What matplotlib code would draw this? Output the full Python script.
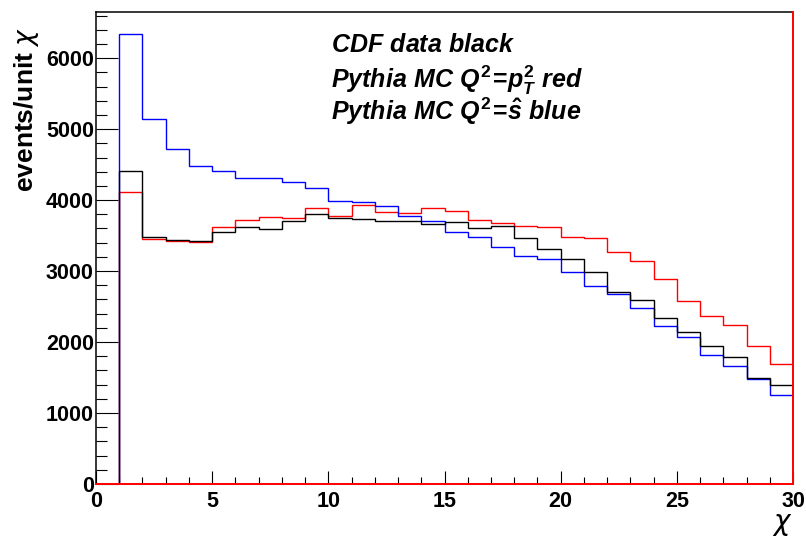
import numpy as np
import matplotlib
matplotlib.use('Agg')
import matplotlib.pyplot as plt
from matplotlib.ticker import MultipleLocator

plt.rcParams['font.family'] = ['Liberation Sans', 'DejaVu Sans']
plt.rcParams['mathtext.fontset'] = 'custom'
plt.rcParams['mathtext.rm'] = 'Liberation Sans:bold'
plt.rcParams['mathtext.it'] = 'Liberation Sans:bold:italic'
plt.rcParams['mathtext.bf'] = 'Liberation Sans:bold'

# bin edges (chi), 29 bins of width 1 from 1 to 30
edges = np.arange(1, 31)

cdf_data = [4413, 3474, 3437, 3423, 3545, 3615, 3596, 3704, 3798, 3745,
            3728, 3704, 3704, 3657, 3685, 3601, 3634, 3461, 3314, 3173,
            2982, 2700, 2596, 2343, 2146, 1944, 1784, 1493, 1394]
pythia_pt2 = [4113, 3451, 3427, 3404, 3615, 3718, 3756, 3742, 3892, 3777,
              3934, 3831, 3812, 3892, 3845, 3718, 3680, 3638, 3624, 3482,
              3461, 3268, 3141, 2892, 2582, 2366, 2239, 1944, 1690]
pythia_shat = [6338, 5141, 4718, 4483, 4413, 4305, 4305, 4258, 4164, 3991,
               3967, 3915, 3779, 3704, 3554, 3474, 3333, 3211, 3164, 2988,
               2789, 2680, 2474, 2225, 2066, 1817, 1662, 1479, 1249]

legend_lines = [r'$CDF\ data\ black$',
                r'$Pythia\ MC\ Q^{2}\!=\!p_{T}^{2}\ red$',
                r'$Pythia\ MC\ Q^{2}\!=\!\hat{s}\ blue$']
legend_y = [6089, 5573, 5127]

fig = plt.figure(figsize=(8.06, 5.40), dpi=100)
ax = fig.add_axes([96 / 806, 56 / 540, 697 / 806, 472 / 540])

ax.stairs(pythia_pt2, edges, baseline=0, color='#ff0000', lw=1.0, zorder=2)
ax.stairs(pythia_shat, edges, baseline=0, color='#0000ff', lw=1.0, zorder=3)
ax.stairs(cdf_data, edges, baseline=0, color='black', lw=1.0, zorder=4)

ax.set_xlim(0, 30)
ax.set_ylim(0, 6650)

ax.xaxis.set_major_locator(MultipleLocator(5))
ax.xaxis.set_minor_locator(MultipleLocator(1))
ax.yaxis.set_major_locator(MultipleLocator(1000))
ax.yaxis.set_minor_locator(MultipleLocator(200))

ax.tick_params(axis='x', which='major', direction='in', length=9.4, width=0.8, pad=5)
ax.tick_params(axis='x', which='minor', direction='in', length=5, width=0.8)
ax.tick_params(axis='y', which='major', direction='in', length=15.8, width=0.8, pad=1.5)
ax.tick_params(axis='y', which='minor', direction='in', length=7.9, width=0.8)
for lab in ax.get_xticklabels() + ax.get_yticklabels():
    lab.set_fontsize(15.5)
    lab.set_fontweight('bold')

for side in ['left', 'top']:
    ax.spines[side].set_color('black')
    ax.spines[side].set_linewidth(1.1)
for side in ['right', 'bottom']:
    ax.spines[side].set_color('#ff0000')
    ax.spines[side].set_linewidth(1.4)
    ax.spines[side].set_zorder(5)

for txt, yy in zip(legend_lines, legend_y):
    ax.text(10.1, yy, txt, fontsize=18, va='baseline', ha='left')

fig.text(27 / 806, 1 - 27 / 540, r'events/unit $\chi$', rotation=90,
         ha='center', va='top', fontsize=19, fontweight='bold',
         math_fontfamily='dejavusans')
fig.text(782 / 806, 1 - 525 / 540, r'$\chi$', ha='center', va='center',
         fontsize=20, math_fontfamily='dejavusans')

fig.savefig('out.png', dpi=100)
plt.close(fig)
